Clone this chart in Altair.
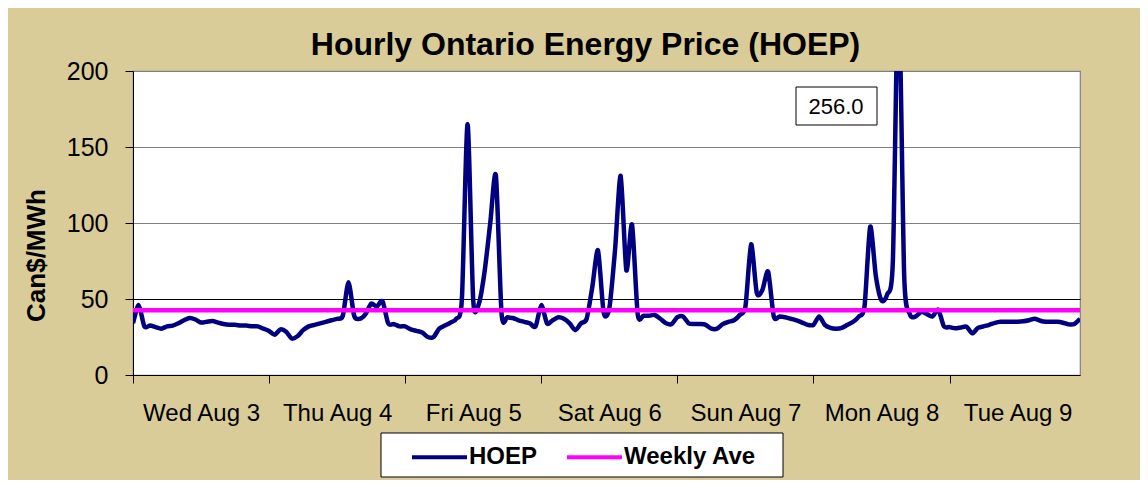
import json
import altair as alt
import pandas as pd

# ---------------- data ----------------
DAYS = ["Wed Aug 3", "Thu Aug 4", "Fri Aug 5", "Sat Aug 6", "Sun Aug 7", "Mon Aug 8", "Tue Aug 9"]

WED = [34, 46, 32, 32.5, 31.5, 30.5, 32, 32.5, 34, 36, 37.5, 36.5,
       34.5, 35, 35.5, 34.5, 33.5, 33, 33, 32.5, 32.5, 32, 32, 30.5]
THU = [29, 26.5, 30, 28.5, 24, 25.5, 29.5, 32, 33, 34, 35, 36,
       37, 39, 61, 39, 37, 40, 47, 45, 48.5, 34, 33.5, 32]
FRI = [32, 30, 29, 28, 25, 25, 30.5, 32.5, 34.5, 37, 50, 165,
       49, 47, 68, 100, 131, 40, 38, 37.5, 36, 35, 34, 32]
SAT = [46, 34, 36, 38, 37, 34, 29.5, 34, 37, 58, 82, 41,
       44, 82, 131, 69, 99, 40, 39, 39, 39.5, 37, 34, 33.5]
SUN = [38, 38.5, 34, 33.5, 33.5, 33, 30.5, 30.5, 33.5, 35, 36, 39.5,
       45, 86, 54, 56, 68, 38.5, 38.5, 38, 37, 36, 34.5, 33]
MON = [33, 38.5, 33, 31, 30.5, 31, 33, 35, 38.5, 45, 97.6, 65,
       49, 53, 75, 256, 65, 40, 38.5, 41.5, 40, 38.5, 43, 32]
TUE = [31.5, 30.7, 31.3, 31.8, 27.4, 31, 32, 33, 34.3, 35, 35, 35,
       35, 35.3, 36, 37, 35.7, 35, 35, 35, 34.4, 33.3, 33.5, 37]

WEEKLY_AVE = 42.6
SERIES = ["HOEP", "Weekly Ave"]
COLORS = ["#000080", "#FF00FF"]
Y_TICKS = [0, 50, 100, 150, 200]

HOEP = WED + THU + FRI + SAT + SUN + MON + TUE
hours_per_day = len(WED)

df = pd.DataFrame({"hour": list(range(len(HOEP))), "price": HOEP, "series": SERIES[0]})
avg_df = pd.DataFrame({"avg": [WEEKLY_AVE], "series": [SERIES[1]]})
peak_df = pd.DataFrame({"label": [f"{max(HOEP):.1f}"]})

FONT = "Liberation Sans"

color_scale = alt.Scale(domain=SERIES, range=COLORS)
legend = alt.Legend(
    title=None, orient="none", legendX=277, legendY=356.5,
    direction="horizontal", symbolType="stroke", symbolSize=3025,
    symbolStrokeWidth=4, labelFont=FONT, labelFontSize=24,
    labelFontWeight="bold", labelColor="black", columnPadding=21,
    labelOffset=0, padding=0,
)

label_expr = (
    f"datum.value % {hours_per_day} == {hours_per_day // 2} ? "
    f"{json.dumps(DAYS)}[floor(datum.value / {hours_per_day})] : ''"
)

x_enc = alt.X(
    "hour:Q",
    title=None,
    scale=alt.Scale(domain=[0, len(HOEP) - 1], nice=False, zero=False),
    axis=alt.Axis(
        values=list(range(0, len(HOEP), hours_per_day // 2)),
        labelExpr=label_expr,
        labelOverlap=False,
        labelFlush=False,
        labelBound=False,
        labelFont=FONT,
        labelFontSize=24,
        labelColor="black",
        labelPadding=18,
        tickSize=8,
        tickColor={"condition": {"test": f"datum.value % {hours_per_day} == 0", "value": "black"},
                   "value": "transparent"},
        domainColor="black",
        grid=False,
    ),
)

y_enc = alt.Y(
    "price:Q",
    title="Can$/MWh",
    scale=alt.Scale(domain=[0, 200], nice=False),
    axis=alt.Axis(
        values=Y_TICKS,
        labelFont=FONT,
        labelFontSize=25,
        labelColor="black",
        labelPadding=17,
        tickSize=8,
        tickColor="black",
        domainColor="black",
        grid=True,
        gridColor={"condition": {"test": "datum.value == 50", "value": "#000000"},
                   "value": "#808080"},
        gridWidth=1.2,
        titleFont=FONT,
        titleFontSize=26,
        titleFontWeight="bold",
        titleColor="black",
        titlePadding=17,
        titleY=184,
    ),
)

legend_box = alt.Chart(peak_df).mark_rect(fill="white", stroke="black", strokeWidth=1).encode(
    x=alt.value(248), x2=alt.value(650), y=alt.value(362), y2=alt.value(406)
)

line = alt.Chart(df).mark_line(
    strokeWidth=4.5, interpolate="cardinal", tension=0.25, clip=True
).encode(
    x=x_enc,
    y=y_enc,
    color=alt.Color("series:N", scale=color_scale, legend=legend),
)

avg_rule = alt.Chart(avg_df).mark_rule(strokeWidth=4.5).encode(
    y=alt.Y("avg:Q"),
    color=alt.Color("series:N", scale=color_scale, legend=legend),
)

ann_box = alt.Chart(peak_df).mark_rect(fill="white", stroke="black", strokeWidth=1).encode(
    x=alt.value(663), x2=alt.value(744), y=alt.value(16), y2=alt.value(54)
)
ann_text = alt.Chart(peak_df).mark_text(
    font=FONT, fontSize=22, color="black", align="center", baseline="middle"
).encode(x=alt.value(703), y=alt.value(36), text="label:N")

chart = alt.layer(legend_box, line, avg_rule, ann_box, ann_text).properties(
    width=947,
    height=304,
    autosize=alt.AutoSizeParams(type="none"),
    padding={"left": 125, "top": 63, "right": 60, "bottom": 105},
    background="#D9CC99",
    title=alt.TitleParams(
        "Hourly Ontario Energy Price (HOEP)",
        font=FONT, fontSize=32, fontWeight="bold", color="black",
        anchor="middle", dx=-21, dy=44, offset=16, baseline="alphabetic",
    ),
).configure_view(stroke="#808080", strokeWidth=1.2, fill="white")

chart.save("out.html", embed_options={"renderer": "svg", "actions": False})
